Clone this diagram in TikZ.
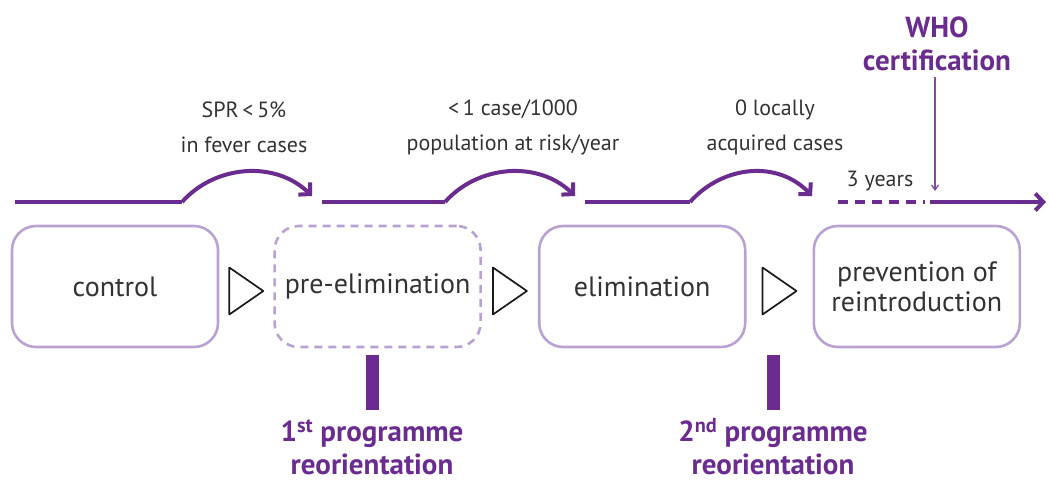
\documentclass[tikz,border=0pt]{standalone}
\usepackage{fontspec}
\setmainfont{PT Sans}
\usetikzlibrary{arrows.meta,positioning,calc}
\definecolor{plum}{HTML}{6A2C8E}
\definecolor{plumtint}{HTML}{B9A2D3}
\definecolor{inkgrey}{HTML}{333333}

\begin{document}
\begin{tikzpicture}[x=1pt, y=-1pt,
    phase/.style={rectangle, rounded corners=24pt, draw=plumtint, line width=2.6pt, text=inkgrey,
                  font=\fontsize{28}{30}\selectfont, minimum width=206pt, minimum height=121pt, align=center, inner sep=2pt},
    dashphase/.style={phase, dash pattern=on 8pt off 6pt},
    track/.style={plum, line width=4.5pt},
    hop/.style={plum, line width=4pt, -{Straight Barb[length=8pt,width=17pt,line width=4pt]}},
    crit/.style={text=inkgrey, font=\fontsize{22}{35}\selectfont, align=center, inner sep=0pt},
    chev/.style={draw=black!90, line width=1.7pt, line join=round},
    callout/.style={text=plum, font=\bfseries\fontsize{29}{33}\selectfont, align=center, inner sep=0pt},
    bar/.style={fill=plum, minimum width=13pt, minimum height=55pt, inner sep=0pt},
    pointer/.style={plum!85, line width=1.3pt, -{Straight Barb[length=5pt,width=7pt,line width=1.3pt]}}
  ]
  \useasboundingbox (0,0) rectangle (1049,483);

  % phases
  \node[phase] (ctrl) at (115,286.5) {control};
  \node[dashphase, right=54pt of ctrl] (preel) {pre-elimination};
  \node[phase, right=56pt of preel] (elim) {elimination};
  \node[phase, right=66pt of elim] (prev) {prevention of\\reintroduction};

  % open triangles between phases
  \foreach \a/\b in {ctrl/preel, preel/elim, elim/prev}
    \draw[chev] ($(\a.east)!0.5!(\b.west)+(-17,-19)$) -- ++(34,23.5) -- ++(-34,23.5) -- cycle;

  % timeline
  \coordinate (t0) at (15,202);
  \coordinate (t1) at (182,202);
  \coordinate (t2) at (322,202);
  \coordinate (t3) at (445,202);
  \coordinate (t4) at (585,202);
  \coordinate (t5) at (690,202);
  \coordinate (t6) at (838,202);
  \coordinate (t7) at (925,202);
  \coordinate (t8) at (930,202);
  \coordinate (t9) at (1046,202);
  \draw[track] (t0) -- (t1);
  \draw[track] (t2) -- (t3);
  \draw[track] (t4) -- (t5);
  \draw[track, dash pattern=on 10pt off 7pt] (t6) -- (t7);
  \draw[track, -{Straight Barb[length=8pt,width=17pt,line width=4pt]}] (t8) -- (t9);
  \draw[hop] (t1) .. controls (215,165) and (275,160) .. (312,196);
  \draw[hop] (t3) .. controls (478,165) and (538,160) .. (575,196);
  \draw[hop] (t5) .. controls (723,165) and (778,160) .. (812,196);

  % thresholds
  \node[crit] (spr) at (244,127) {SPR\,<\,5\%\\in fever cases};
  \node[crit] (inc) at (513,127) {<\,1 case/1000\\population at risk/year};
  \node[crit] (zero) at (775,127) {0 locally\\acquired cases};
  \node[crit] (three) at (880,181) {3 years};

  % certification
  \node[callout] (who) at (937,44) {WHO\\certification};
  \coordinate (certpt) at (935,191);
  \draw[pointer] (who.south -| certpt) ++(0,6) -- (certpt);

  % reorientations
  \node[bar] (bar1) at (372,382) {};
  \node[bar] (bar2) at (773,382) {};
  \node[callout] (reor1) at (372,447) {1\textsuperscript{st} programme\\reorientation};
  \node[callout] (reor2) at (773,447) {2\textsuperscript{nd} programme\\reorientation};
\end{tikzpicture}
\end{document}
